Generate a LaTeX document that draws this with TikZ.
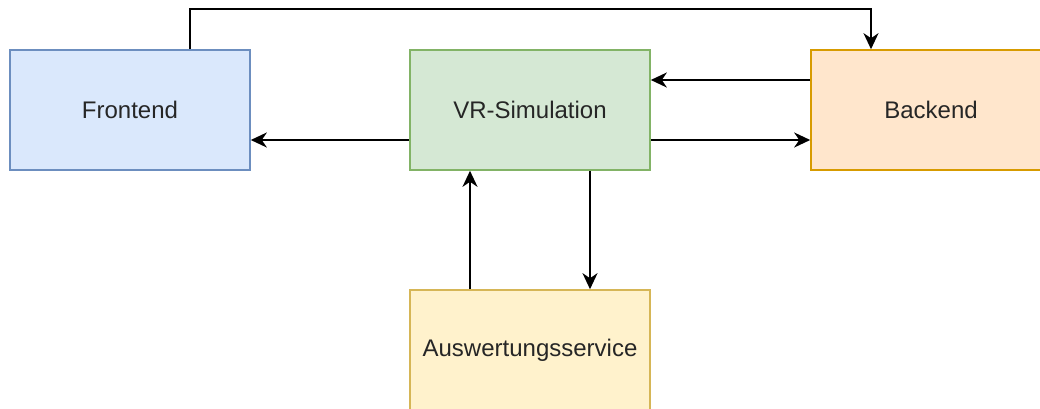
\documentclass[tikz,border=0pt]{standalone}
\usepackage{fontspec}
\setmainfont{Liberation Sans}
\usetikzlibrary{arrows.meta}
\definecolor{feFill}{HTML}{DAE8FC}\definecolor{feLine}{HTML}{6C8EBF}
\definecolor{vrFill}{HTML}{D5E8D4}\definecolor{vrLine}{HTML}{82B366}
\definecolor{beFill}{HTML}{FFE6CC}\definecolor{beLine}{HTML}{D79B00}
\definecolor{awFill}{HTML}{FFF2CC}\definecolor{awLine}{HTML}{D6B656}
\begin{document}
\begin{tikzpicture}[x=1pt,y=-1pt,
  box/.style={draw,line width=1.6pt,minimum width=240pt,minimum height=120pt,
    text=black!85,font=\fontsize{24}{28}\selectfont},
  arr/.style={line width=2pt,-{Stealth[length=16pt,width=15pt,inset=5pt]}}]
\useasboundingbox (0,0) rectangle (1040,409);
\clip (0,0) rectangle (1040,409);
% boxes
\node[box,fill=feFill,draw=feLine] (frontend) at (130,110) {Frontend};
\node[box,fill=vrFill,draw=vrLine] (vrsim) at (530,110) {VR-Simulation};
\node[box,fill=beFill,draw=beLine] (backend) at (931,110) {Backend};
\node[box,fill=awFill,draw=awLine] (auswertung) at (530,350) {Auswertungsservice};
% connectors
\draw[arr] ([xshift=60pt]frontend.north) -- ++(0,-40) -| ([xshift=-60pt]backend.north);
\draw[arr] ([yshift=30pt]backend.west) -- ([yshift=30pt]vrsim.east);
\draw[arr] ([yshift=-30pt]vrsim.east) -- ([yshift=-30pt]backend.west);
\draw[arr] ([yshift=-30pt]vrsim.west) -- ([yshift=-30pt]frontend.east);
\draw[arr] ([xshift=-60pt]auswertung.north) -- ([xshift=-60pt]vrsim.south);
\draw[arr] ([xshift=60pt]vrsim.south) -- ([xshift=60pt]auswertung.north);
\end{tikzpicture}
\end{document}
